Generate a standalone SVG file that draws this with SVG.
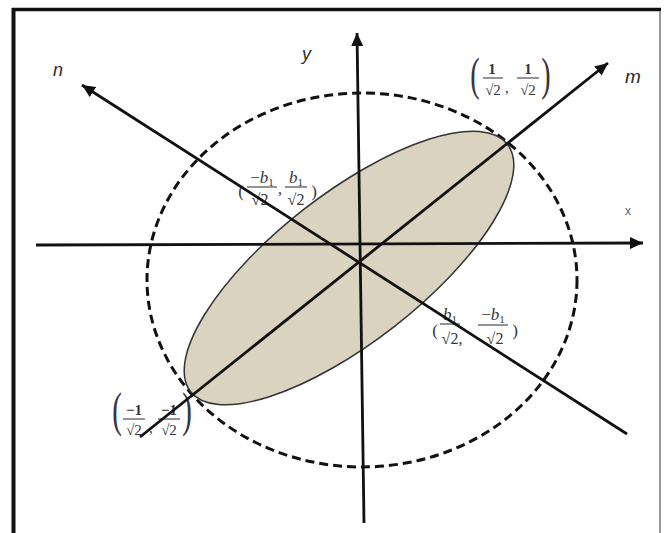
<svg xmlns="http://www.w3.org/2000/svg" width="666" height="533" viewBox="0 0 666 533">
<style>
.ax{stroke:#111;stroke-width:2.8;fill:none}
.lbl{font-family:"Liberation Sans",Arial,sans-serif;font-style:italic;fill:#2a2a2a}
.mt{font-family:"Liberation Serif","Times New Roman",serif;fill:#35353d}
.bar{stroke:#4a4a52;stroke-width:1.2}
</style>
<defs>
<marker id="arr" markerUnits="userSpaceOnUse" markerWidth="14" markerHeight="12" refX="13" refY="6" orient="auto">
<path d="M0,0 L13,6 L0,12 z" fill="#111"/>
</marker>
</defs>
<rect width="666" height="533" fill="#fff"/>
<g id="frame">
<line x1="13.5" y1="8" x2="13.5" y2="533" stroke="#111" stroke-width="4"/>
<line x1="12" y1="9.5" x2="661" y2="9.5" stroke="#111" stroke-width="3.5"/>
<line x1="660" y1="11" x2="660" y2="533" stroke="#999" stroke-width="2"/>
</g>
<g id="circle">
<ellipse cx="362" cy="280" rx="215" ry="187" fill="none" stroke="#111" stroke-width="3" stroke-dasharray="9,5"/>
</g>
<g id="ellipse">
<ellipse cx="0" cy="0" rx="201" ry="74" transform="translate(349,268) rotate(-38)" fill="#d9d3c0" stroke="#333" stroke-width="1.5"/>
</g>
<g id="label-tr" class="mt">
<text transform="translate(475,90) scale(0.6,1)" font-size="47" text-anchor="middle">(</text>
<text x="492" y="74" font-size="15" font-weight="bold" text-anchor="middle">1</text>
<line class="bar" x1="483" y1="78" x2="503" y2="78"/>
<text x="493" y="95" font-size="15" text-anchor="middle">√2</text>
<text x="505" y="93" font-size="15">,</text>
<text x="528" y="74" font-size="15" font-weight="bold" text-anchor="middle">1</text>
<line class="bar" x1="517" y1="78" x2="539" y2="78"/>
<text x="528" y="95" font-size="15" text-anchor="middle">√2</text>
<text transform="translate(546,90) scale(0.6,1)" font-size="47" text-anchor="middle">)</text>
</g>
<g id="label-nl" class="mt">
<text x="241" y="197" font-size="17" text-anchor="middle">(</text>
<text x="262" y="183" font-size="17" text-anchor="middle">−<tspan font-style="italic">b</tspan><tspan font-size="11" dy="3">1</tspan></text>
<line class="bar" x1="247" y1="187" x2="277" y2="187"/>
<text x="260" y="205" font-size="16" text-anchor="middle">√2</text>
<text x="278" y="194" font-size="16">,</text>
<text x="296" y="183" font-size="17" text-anchor="middle"><tspan font-style="italic">b</tspan><tspan font-size="11" dy="3">1</tspan></text>
<line class="bar" x1="285" y1="187" x2="307" y2="187"/>
<text x="296" y="205" font-size="16" text-anchor="middle">√2</text>
<text x="314" y="197" font-size="17" text-anchor="middle">)</text>
</g>
<g id="label-nr" class="mt">
<text x="435" y="336" font-size="17" text-anchor="middle">(</text>
<text x="450" y="320" font-size="17" text-anchor="middle"><tspan font-style="italic">b</tspan><tspan font-size="11" dy="3">1</tspan></text>
<line class="bar" x1="440" y1="324" x2="460" y2="324"/>
<text x="452" y="344" font-size="16" text-anchor="middle">√2,</text>
<text x="493" y="320" font-size="17" text-anchor="middle">−<tspan font-style="italic">b</tspan><tspan font-size="11" dy="3">1</tspan></text>
<line class="bar" x1="478" y1="325" x2="508" y2="325"/>
<text x="495" y="344" font-size="16" text-anchor="middle">√2</text>
<text x="515" y="336" font-size="17" text-anchor="middle">)</text>
</g>
<g id="label-bl" class="mt">
<text transform="translate(117,426) scale(0.6,1)" font-size="48" text-anchor="middle">(</text>
<text x="134" y="415" font-size="15" font-weight="bold" text-anchor="middle">−1</text>
<line class="bar" x1="123" y1="419" x2="145" y2="419"/>
<text x="134" y="435" font-size="15" text-anchor="middle">√2</text>
<text x="149" y="433" font-size="15">,</text>
<text x="169" y="415" font-size="15" font-weight="bold" text-anchor="middle">−1</text>
<line class="bar" x1="158" y1="419" x2="180" y2="419"/>
<text x="169" y="435" font-size="15" text-anchor="middle">√2</text>
<text transform="translate(187,426) scale(0.6,1)" font-size="48" text-anchor="middle">)</text>
</g>
<g id="axis-labels">
<text class="lbl" x="53" y="76" font-size="18">n</text>
<text class="lbl" x="302" y="60" font-size="18">y</text>
<text class="lbl" x="625" y="83" font-size="19">m</text>
<text x="625" y="215" font-size="12" font-family="Liberation Sans,Arial,sans-serif" fill="#666">x</text>
</g>
<g id="connectors">
<line class="ax" x1="36" y1="245" x2="643" y2="243" marker-end="url(#arr)"/>
<line class="ax" x1="364" y1="523" x2="357" y2="33" marker-end="url(#arr)"/>
<line class="ax" x1="140" y1="437" x2="608" y2="63" marker-end="url(#arr)"/>
<line class="ax" x1="627" y1="434" x2="82" y2="85" marker-end="url(#arr)"/>
</g>
</svg>
